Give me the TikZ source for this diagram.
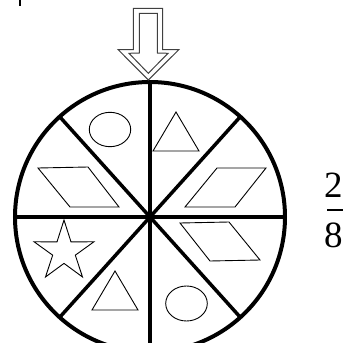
\documentclass[tikz,border=0pt]{standalone}
\usepackage{fontspec}
\newfontfamily\fracfont{Liberation Serif}
\usetikzlibrary{calc}
\begin{document}
\begin{tikzpicture}[x=1pt,y=-1pt,
  rim/.style={line width=4pt},
  spoke/.style={line width=3.5pt},
  figure/.style={line width=0.9pt},
  arrowline/.style={line width=1pt,draw=black!75},
  digit/.style={font=\fracfont\fontsize{37}{37}\selectfont,inner sep=0pt,anchor=base west}]
\useasboundingbox (0,0) rectangle (343,343);
\clip (0,0) rectangle (343,343);
\fill[white] (0,0) rectangle (343,343);
\coordinate (c) at (150,217);
% small mark top-left
\draw[line width=2pt] (20,0) -- (20,6);
% spokes
\draw[spoke] (c) ++(0,-135) -- ++(0,270);
\draw[spoke] (c) ++(-135,0) -- ++(270,0);
\draw[spoke] ($(c)+(228:135)$) -- ($(c)+(48:135)$);
\draw[spoke] ($(c)+(312:135)$) -- ($(c)+(132:135)$);
\draw[rim] (c) circle (135);
% arrow
\draw[arrowline] (133.3,8.3) -- (133.3,49.5) -- (118,49.5) -- (148.3,80) -- (179,49.5) -- (162.7,49.5) -- (162.7,8.3) -- cycle;
\draw[arrowline] (139.3,13.3) -- (139.3,53) -- (129,53.3) -- (148.3,73.3) -- (168,53.3) -- (157.3,53) -- (157.3,13.3) -- cycle;
% shapes
\draw[figure] (110,129.5) ellipse (20.7 and 17.2);
\draw[figure] (176,112) -- (153,151) -- (199,151) -- cycle;
\draw[figure] (38,168) -- (88,167) -- (119,207) -- (70,207) -- cycle;
\draw[figure] (217,168) -- (266,168) -- (235,207) -- (185,207) -- cycle;
\draw[figure] (180,223) -- (229,222) -- (260,260) -- (210,261) -- cycle;
\draw[figure] (115,271) -- (92,310) -- (138,310) -- cycle;
\draw[figure] (186.5,303.5) ellipse (20.8 and 17.5);
\draw[figure] (64,251.5) +(-90:31.5) -- +(-54:11.9) -- +(-18:31.5) -- +(18:11.9) -- +(54:31.5) -- +(90:11.9) -- +(126:31.5) -- +(162:11.9) -- +(198:31.5) -- +(234:11.9) -- cycle;
% fraction
\node[digit] (num) at (324,197) {2};
\node[digit] (den) at (324,247) {8};
\draw[line width=1.5pt] (327,210) -- (350,210);
\end{tikzpicture}
\end{document}
